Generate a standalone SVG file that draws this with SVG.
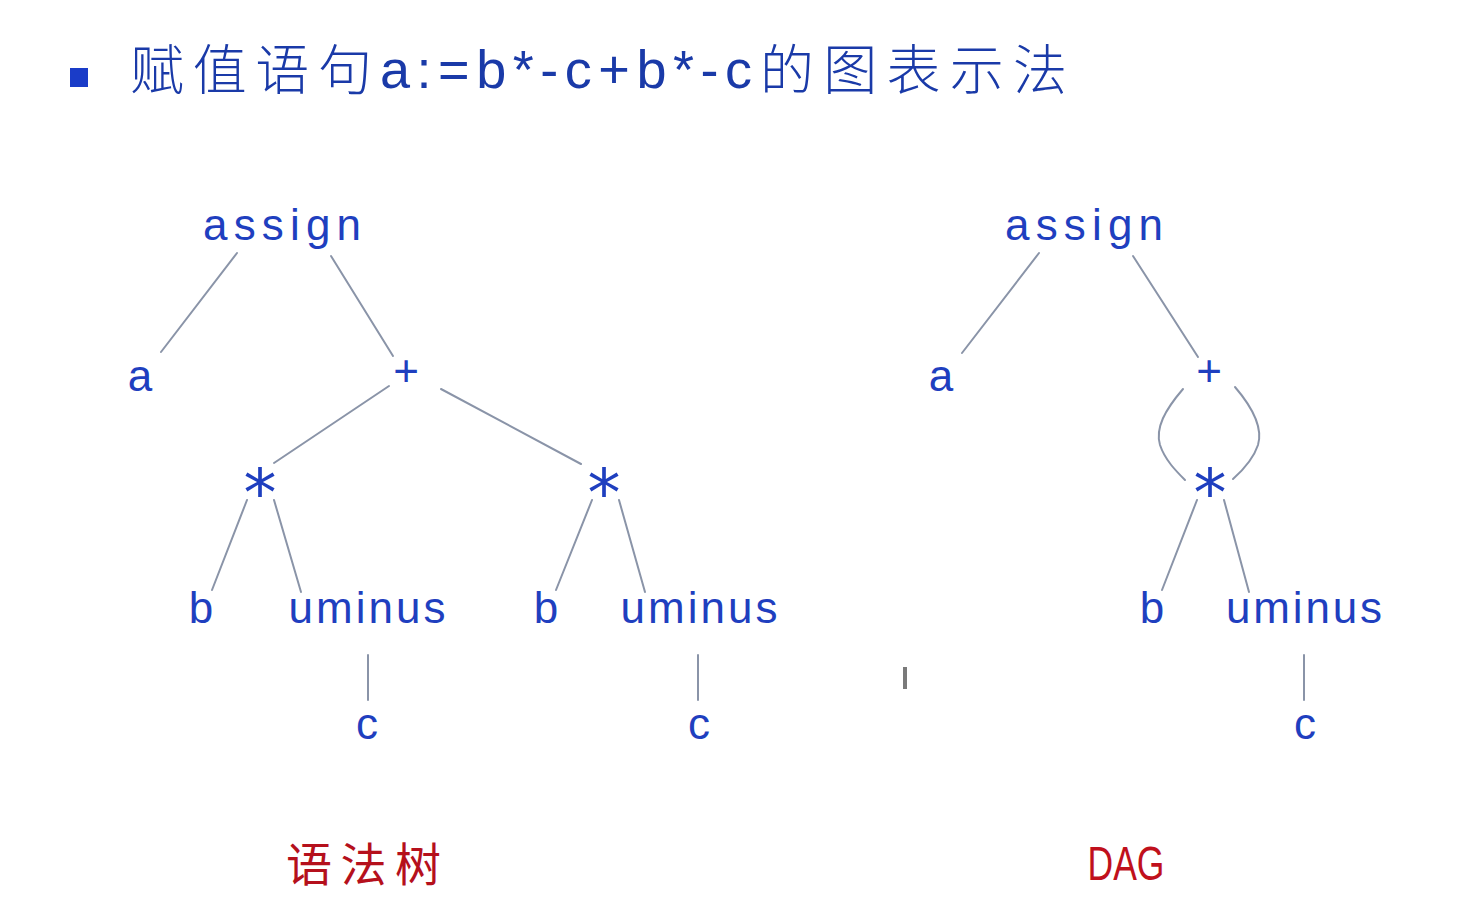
<svg xmlns="http://www.w3.org/2000/svg" width="1484" height="905" viewBox="0 0 1484 905">
<style>
.lbl{font-family:"Liberation Sans",Arial,sans-serif;font-size:44px;fill:#1f3fbf;text-anchor:middle}
.star{font-family:"DejaVu Sans",sans-serif;font-size:66px;fill:#1f3fbf;text-anchor:middle}
.title{font-family:"Liberation Sans","Noto Sans CJK SC",sans-serif;font-size:54px;fill:#1a3aa8}
.titlecn{font-family:"Noto Sans CJK SC",sans-serif;font-size:54px;font-weight:300;fill:#1a3aa8}
.cap{font-family:"Noto Sans CJK SC",sans-serif;font-size:46px;fill:#b5101c}
.edge{stroke:#8a94a8;stroke-width:2;fill:none;stroke-linecap:round}
</style>
<rect width="1484" height="905" fill="#ffffff"/>
<g id="title">
<rect x="70" y="68" width="18" height="19" fill="#1a3cc8"/>
<text class="titlecn" x="130" y="90" textLength="242" lengthAdjust="spacing">赋值语句</text>
<text class="title" x="380" y="88" textLength="372" lengthAdjust="spacing">a:=b*-c+b*-c</text>
<text class="titlecn" x="760" y="90" textLength="307" lengthAdjust="spacing">的图表示法</text>
</g>
<g id="connectors">
<line class="edge" x1="237" y1="253" x2="161" y2="352"/>
<line class="edge" x1="331" y1="256" x2="393" y2="356"/>
<line class="edge" x1="389" y1="386" x2="274" y2="463"/>
<line class="edge" x1="441" y1="389" x2="581" y2="464"/>
<line class="edge" x1="247" y1="500" x2="212" y2="590"/>
<line class="edge" x1="274" y1="500" x2="301" y2="592"/>
<line class="edge" x1="592" y1="500" x2="556" y2="590"/>
<line class="edge" x1="619" y1="500" x2="645" y2="592"/>
<line class="edge" x1="368" y1="655" x2="368" y2="700"/>
<line class="edge" x1="698" y1="655" x2="698" y2="700"/>
<line class="edge" x1="1039" y1="253" x2="962" y2="353"/>
<line class="edge" x1="1133" y1="256" x2="1198" y2="357"/>
<path class="edge" d="M1183,389 C1165,410 1155,428 1160,445 C1165,460 1176,471 1185,480"/>
<path class="edge" d="M1235,387 C1253,408 1263,428 1258,445 C1253,460 1242,471 1233,479"/>
<line class="edge" x1="1197" y1="500" x2="1162" y2="590"/>
<line class="edge" x1="1224" y1="500" x2="1249" y2="592"/>
<line class="edge" x1="1304" y1="655" x2="1304" y2="700"/>
</g>
<g id="tree-assign"><text class="lbl" x="282" y="240" textLength="158" lengthAdjust="spacing">assign</text></g>
<g id="tree-a"><text class="lbl" x="140" y="391">a</text></g>
<g id="tree-plus"><text class="lbl" x="406" y="386">+</text></g>
<g id="tree-star1"><text class="star" x="260" y="516">*</text></g>
<g id="tree-star2"><text class="star" x="604" y="516">*</text></g>
<g id="tree-b1"><text class="lbl" x="201" y="623">b</text></g>
<g id="tree-uminus1"><text class="lbl" x="367" y="623" textLength="157" lengthAdjust="spacing">uminus</text></g>
<g id="tree-b2"><text class="lbl" x="546" y="623">b</text></g>
<g id="tree-uminus2"><text class="lbl" x="699" y="623" textLength="157" lengthAdjust="spacing">uminus</text></g>
<g id="tree-c1"><text class="lbl" x="367" y="739">c</text></g>
<g id="tree-c2"><text class="lbl" x="699" y="739">c</text></g>
<g id="dag-assign"><text class="lbl" x="1084" y="240" textLength="158" lengthAdjust="spacing">assign</text></g>
<g id="dag-a"><text class="lbl" x="941" y="391">a</text></g>
<g id="dag-plus"><text class="lbl" x="1209" y="386">+</text></g>
<g id="dag-star"><text class="star" x="1210" y="516">*</text></g>
<g id="dag-b"><text class="lbl" x="1152" y="623">b</text></g>
<g id="dag-uminus"><text class="lbl" x="1304" y="623" textLength="156" lengthAdjust="spacing">uminus</text></g>
<g id="dag-c"><text class="lbl" x="1305" y="739">c</text></g>
<g id="captions">
<text class="cap" x="286" y="881" textLength="155" lengthAdjust="spacing">语法树</text>
<text x="0" y="0" transform="translate(1126,880) scale(0.74,1)" style="font-family:'Liberation Sans',sans-serif;font-size:48px;fill:#c0101c;text-anchor:middle">DAG</text>
</g>
<rect x="903" y="667" width="4" height="22" fill="#7a7a7a"/>
</svg>
